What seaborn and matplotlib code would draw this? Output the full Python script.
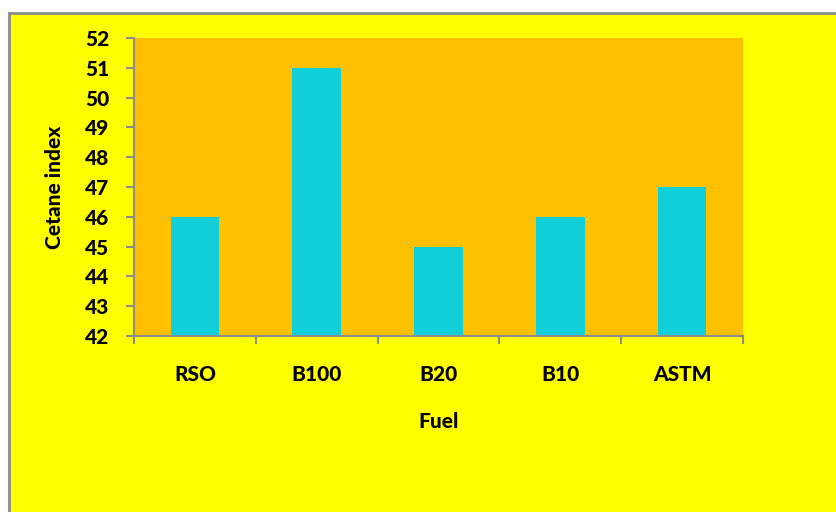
import matplotlib
matplotlib.use("Agg")
import matplotlib.pyplot as plt
from matplotlib.patches import Rectangle
import seaborn as sns
import pandas as pd

fuels = ["RSO", "B100", "B20", "B10", "ASTM"]
cetane_index = [46, 51, 45, 46, 47]
y_ticks = list(range(42, 53))

df = pd.DataFrame({"Fuel": fuels, "Cetane index": cetane_index})

sns.set_theme(style="white")
plt.rcParams["font.family"] = ["Lato", "DejaVu Sans"]
plt.rcParams["font.weight"] = "bold"
plt.rcParams["text.color"] = "black"
plt.rcParams["xtick.color"] = "black"
plt.rcParams["ytick.color"] = "black"
plt.rcParams["axes.labelcolor"] = "black"

W, H = 836, 512
fig = plt.figure(figsize=(W / 100, H / 100), dpi=100, facecolor="white")

# chart area frame
frame = Rectangle((9 / W, -0.05), 1.2, (H - 13) / H + 0.05, transform=fig.transFigure,
                  facecolor="#FFFF00", edgecolor="#8C8C8C", linewidth=2.0, zorder=-1)
fig.patches.append(frame)

ax = fig.add_axes([134 / W, 1 - 336 / H, (743 - 134) / W, (336 - 38) / H])
ax.set_zorder(1)
ax.set_facecolor("#FFC000")

sns.barplot(data=df, x="Fuel", y="Cetane index", color="#10CFD9", width=0.4,
            saturation=1, linewidth=0, ax=ax, zorder=2)

ax.set_ylim(42, 52)
ax.set_yticks(y_ticks)
ax.set_xlim(-0.5, len(fuels) - 0.5)

for side in ["top", "right"]:
    ax.spines[side].set_visible(False)
for side in ["left", "bottom"]:
    ax.spines[side].set_color("#8C8C8C")
    ax.spines[side].set_linewidth(1.5)

# x ticks sit at category boundaries, labels at category centres
ax.set_xticks([i - 0.5 for i in range(len(fuels) + 1)], minor=False)
ax.set_xticklabels([])
ax.set_xticks(range(len(fuels)), minor=True)
ax.set_xticklabels(fuels, minor=True, fontsize=15, fontweight="black")
ax.tick_params(axis="x", which="major", direction="out", length=6, width=1.5,
               color="#8C8C8C", bottom=True)
ax.tick_params(axis="x", which="minor", length=0, pad=21, bottom=True)
ax.tick_params(axis="y", direction="out", length=6, width=1.5, color="#8C8C8C",
               left=True, labelsize=15, pad=12)
for lbl in ax.get_yticklabels():
    lbl.set_fontweight("black")

ax.set_xlabel("Fuel", fontsize=15, fontweight="black", labelpad=20)
ax.set_ylabel("Cetane index", fontsize=15, fontweight="black", labelpad=15)

fig.savefig("out.png", dpi=100, facecolor=fig.get_facecolor())
